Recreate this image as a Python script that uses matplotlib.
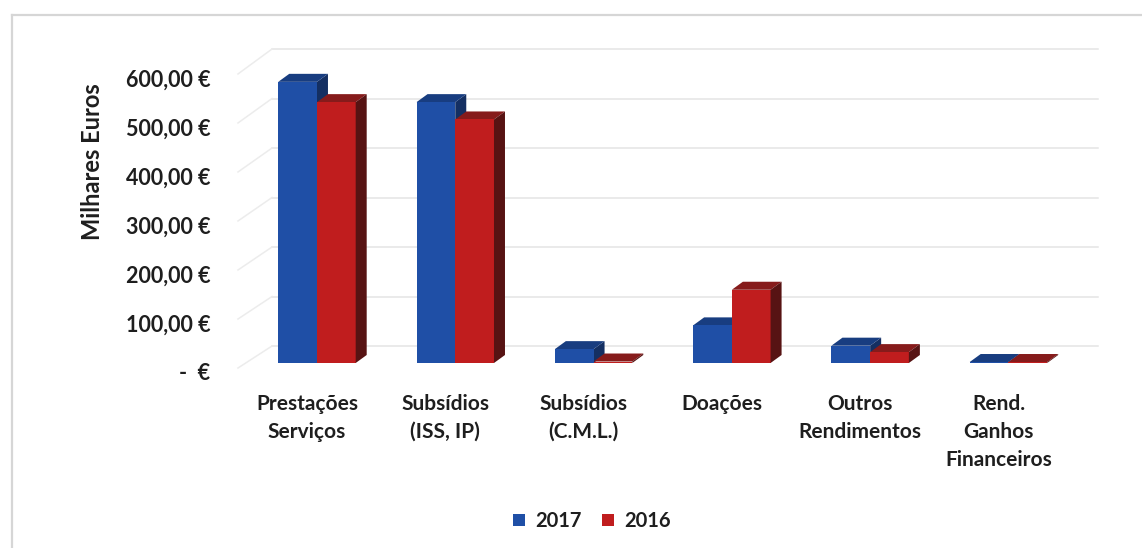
import matplotlib
matplotlib.use("Agg")
import matplotlib.pyplot as plt
from matplotlib.patches import Polygon, Patch
from matplotlib.lines import Line2D
from matplotlib.transforms import ScaledTranslation

# ---- data (milhares de euros) ----
categories = ["Prestações\nServiços", "Subsídios\n(ISS, IP)", "Subsídios\n(C.M.L.)",
              "Doações", "Outros\nRendimentos", "Rend.\nGanhos\nFinanceiros"]
values_2017 = [568, 527, 28, 76, 35, 2]
values_2016 = [527, 492, 3, 148, 22, 2]
series_labels = ["2017", "2016"]
y_ticks = [0, 100, 200, 300, 400, 500, 600]
y_tick_labels = ["-  €", "100,00 €", "200,00 €", "300,00 €", "400,00 €", "500,00 €", "600,00 €"]

# face colours: front, top, side
blue = ("#1f4fa6", "#183d80", "#142f62")
red = ("#c01d1e", "#861b1b", "#571313")

FONT = "Lato"
TXT = "#1e1e1e"
W, H = 1142, 548
fig = plt.figure(figsize=(W / 100, H / 100), dpi=100)
fig.patch.set_facecolor("white")


def fx(px):
    return px / W


def fy(py):
    return 1 - py / H


# outer chart-area border
fig.add_artist(Line2D([fx(12), fx(12)], [fy(15), 0], color="#d6d6d6", lw=1.6))
fig.add_artist(Line2D([fx(12), 1], [fy(15), fy(15)], color="#d6d6d6", lw=1.6))

# main plotting axes (front plane of the columns)
ax = fig.add_axes([fx(238), fy(363), fx(1100) - fx(238), (363 - 66) / H])
ax.set_xlim(-0.571, 5.662)
ax.set_ylim(0, 600)
ax.patch.set_alpha(0)
for s in ax.spines.values():
    s.set_visible(False)
ax.tick_params(length=0)
ax.set_yticks([])

# pixel scale of data units, for the 3-D depth offset
p0 = ax.transData.transform((0, 0))
p1 = ax.transData.transform((1, 1))
sx, sy = p1[0] - p0[0], p1[1] - p0[1]
ddx, ddy = 11 / sx, 8 / sy

# back wall and side wall gridlines
wall_x0, wall_x1, wall_xb = -0.571, -0.325, (1098 - 238) / sx - 0.571
for v in y_ticks:
    yb = v + 17 / sy
    yf = v * 0.99 - 5 / sy
    ax.add_line(Line2D([wall_x1, wall_xb], [yb, yb], color="#e4e4e4", lw=1.1,
                       zorder=0.5, clip_on=False))
    ax.add_line(Line2D([wall_x0, wall_x1], [yf, yb], color="#ececec", lw=1.1,
                       zorder=0.5, clip_on=False))

bw = 0.28
xs = list(range(len(categories)))


def draw_series(vals, offset, cols, zbase):
    bars = ax.bar([x + offset for x in xs], vals, width=bw, align="edge",
                  color=cols[0], zorder=zbase + 0.2, linewidth=0)
    for b in bars:
        x0, w, h = b.get_x(), b.get_width(), b.get_height()
        top = Polygon([(x0, h), (x0 + w, h), (x0 + w + ddx, h + ddy), (x0 + ddx, h + ddy)],
                      closed=True, facecolor=cols[1], edgecolor="none",
                      zorder=zbase + 0.1, clip_on=False)
        side = Polygon([(x0 + w, 0), (x0 + w + ddx, ddy), (x0 + w + ddx, h + ddy), (x0 + w, h)],
                       closed=True, facecolor=cols[2], edgecolor="none",
                       zorder=zbase + (0.0 if zbase < 3 else 0.3), clip_on=False)
        ax.add_patch(top)
        ax.add_patch(side)


draw_series(values_2017, -bw, blue, 2)
draw_series(values_2016, 0.0, red, 3)

# category labels
ax.set_xticks(xs)
ax.set_xticklabels(categories, fontfamily=FONT, fontweight="bold", fontsize=15,
                   color=TXT, linespacing=1.52)
ax.tick_params(axis="x", pad=22)
shift = ScaledTranslation(-10 / 100, 0, fig.dpi_scale_trans)
for lab in ax.get_xticklabels():
    lab.set_transform(lab.get_transform() + shift)

# value axis labels (front edge of the floor)
ay = fig.add_axes([fx(238), fy(372), 0.01, (372 - 78) / H])
ay.set_ylim(0, 600)
ay.patch.set_alpha(0)
for s in ay.spines.values():
    s.set_visible(False)
ay.set_xticks([])
ay.set_yticks(y_ticks)
ay.set_yticklabels(y_tick_labels, fontfamily=FONT, fontweight="bold", fontsize=15.5,
                   color=TXT)
ay.tick_params(axis="y", length=0, pad=20)

fig.text(fx(92), fy(162), "Milhares Euros", rotation=90, ha="center", va="center",
         fontfamily=FONT, fontweight="bold", fontsize=17, color=TXT)

handles = [Patch(facecolor=blue[0], edgecolor="none"), Patch(facecolor=red[0], edgecolor="none")]
leg = fig.legend(handles, series_labels, loc="center", bbox_to_anchor=(fx(592), fy(521)),
                 ncol=2, frameon=False, handlelength=0.6, handleheight=0.6,
                 handletextpad=0.5, columnspacing=1.0,
                 prop={"family": FONT, "weight": "bold", "size": 14.5})
for t in leg.get_texts():
    t.set_color(TXT)

fig.savefig("out.png", dpi=100, facecolor="white")
